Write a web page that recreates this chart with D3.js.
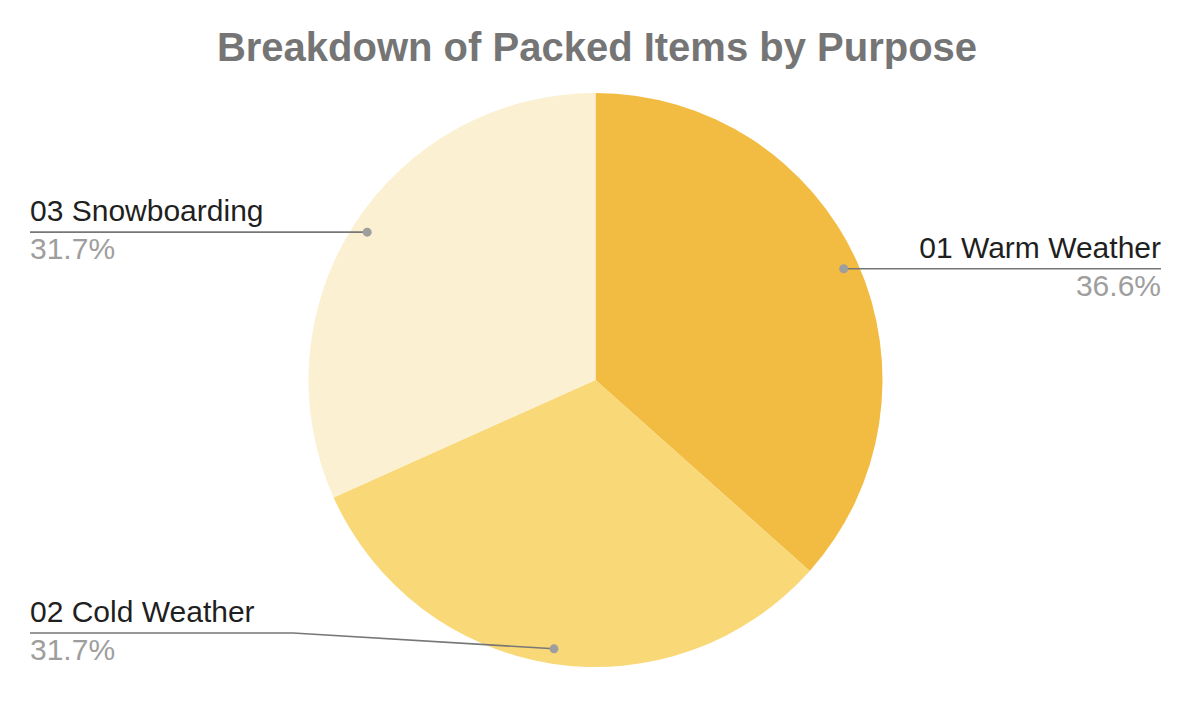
<!DOCTYPE html>
<html>
<head>
<meta charset="utf-8">
<style>
  body { margin: 0; background: #fff; }
  svg { display: block; font-family: Arial, Helvetica, "Liberation Sans", sans-serif; }
</style>
</head>
<body>
<svg id="chart" width="1194" height="726"></svg>
<script src="https://d3js.org/d3.v7.min.js"></script>
<script>

var categories = ["01 Warm Weather", "02 Cold Weather", "03 Snowboarding"],
    counts = [15, 13, 13],
    colors = ["#f2bc42", "#f8d877", "#fbf0d1"];

var svg = d3.select("#chart"),
    width = +svg.attr("width"),
    height = +svg.attr("height"),
    cx = 595.5, cy = 380, radius = 287,
    leftX = 30, rightX = 1161, maxLineY = 633, elbowX = 293;

var data = categories.map(function(c, i) { return {name: c, value: counts[i], color: colors[i]}; });
var total = d3.sum(counts);

svg.append("text")
    .attr("x", width / 2)
    .attr("y", 61)
    .attr("text-anchor", "middle")
    .attr("fill", "#757575")
    .style("font-size", "40px")
    .style("font-weight", "bold")
    .text("Breakdown of Packed Items by Purpose");

var pie = d3.pie()
    .sort(null)
    .value(function(d) { return d.value; });

var arc = d3.arc()
    .innerRadius(0)
    .outerRadius(radius);

var dotArc = d3.arc()
    .innerRadius(radius - 15)
    .outerRadius(radius - 15);

var g = svg.append("g")
    .attr("transform", "translate(" + cx + "," + cy + ")");

var arcs = pie(data);

g.selectAll("path.slice")
  .data(arcs)
  .enter().append("path")
    .attr("class", "slice")
    .attr("fill", function(d) { return d.data.color; })
    .attr("d", arc);

var labels = svg.append("g");

arcs.forEach(function(d) {
  var p = dotArc.centroid(d),
      px = cx + p[0],
      py = cy + p[1],
      right = (d.startAngle + d.endAngle) / 2 < Math.PI,
      ly = Math.min(py, maxLineY),
      endX = right ? rightX : leftX,
      pts;

  if (ly !== py) pts = [[px, py], [elbowX, ly], [endX, ly]];
  else pts = [[px, py], [endX, ly]];

  labels.append("path")
      .attr("d", d3.line()(pts))
      .attr("fill", "none")
      .attr("stroke", "#777")
      .attr("stroke-width", 1.6);

  labels.append("circle")
      .attr("cx", px)
      .attr("cy", py)
      .attr("r", 4.5)
      .attr("fill", "#9e9e9e");

  labels.append("text")
      .attr("x", endX)
      .attr("y", ly - 11)
      .attr("text-anchor", right ? "end" : "start")
      .attr("fill", "#1f1f1f")
      .style("font-size", "30px")
      .text(d.data.name);

  labels.append("text")
      .attr("x", endX)
      .attr("y", ly + 27)
      .attr("text-anchor", right ? "end" : "start")
      .attr("fill", "#9e9e9e")
      .style("font-size", "30px")
      .text((d.data.value / total * 100).toFixed(1) + "%");
});

</script>
</body>
</html>
